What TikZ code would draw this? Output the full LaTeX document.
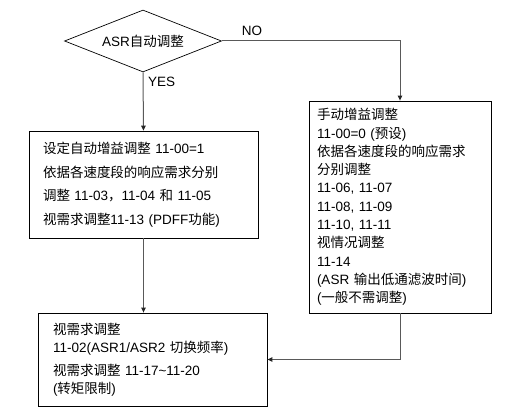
\documentclass[tikz,border=0pt]{standalone}
\usepackage{fontspec}
\setmainfont{Liberation Sans}
\newfontfamily\cjk{Noto Sans CJK SC}
\newcommand\zh[1]{{\cjk #1}}
\usetikzlibrary{shapes.geometric,arrows.meta}
\tikzset{
  txt/.style={font=\fontsize{13.5}{18}\selectfont},
  decision/.style={draw=black, line width=0.7pt, diamond, shape aspect=2.53,
    minimum width=157pt, minimum height=62pt, inner sep=0pt, txt},
  stepbox/.style={draw=black, line width=0.8pt, align=left, inner ysep=0pt, txt},
  conn/.style={draw=black!65, line width=1pt, -{Triangle[length=5pt,width=4.5pt,color=black!85]}},
  lbl/.style={txt, inner sep=0pt}
}
\begin{document}
\begin{tikzpicture}[x=1pt,y=-1pt]
\useasboundingbox (0,0) rectangle (523,417);
\node[decision] (d) at (143,41) {ASR\zh{自动调整}};
\node[stepbox, text width=201pt, inner xsep=14pt, minimum height=107pt,
      font=\fontsize{13.5}{23.5}\selectfont] (l) at (143.5,184.5)
  {\zh{设定自动增益调整} 11-00=1\\
   \zh{依据各速度段的响应需求分别}\\
   \zh{调整} 11-03\zh{，}11-04 \zh{和} 11-05\\
   \zh{视需求调整}11-13 (PDFF\zh{功能})};
\node[stepbox, text width=166pt, inner xsep=8pt, minimum height=212pt,
      font=\fontsize{13.5}{18.3}\selectfont] (r) at (400,207)
  {\zh{手动增益调整}\\
   11-00=0 (\zh{预设})\\
   \zh{依据各速度段的响应需求}\\
   \zh{分别调整}\\
   11-06, 11-07\\
   11-08, 11-09\\
   11-10, 11-11\\
   \zh{视情况调整}\\
   11-14\\
   (ASR \zh{输出低通滤波时间})\\
   (\zh{一般不需调整})};
\node[stepbox, text width=199pt, inner xsep=15pt, minimum height=93pt,
      font=\fontsize{13.5}{18}\selectfont] (b) at (152.5,359.5)
  {\zh{视需求调整}\\
   11-02(ASR1/ASR2 \zh{切换频率})\\[5pt]
   \zh{视需求调整} 11-17\textasciitilde 11-20\\
   (\zh{转矩限制})};
\draw[conn] (d.south) -- (l.north);
\draw[conn] (d.east) -| (r.north);
\draw[conn] (l.south) -- (l.south |- b.north);
\draw[conn] (r.south) |- (b.east);
\node[lbl, anchor=west] (yes) at (148,82) {YES};
\node[lbl] (no) at (252,31) {NO};
\end{tikzpicture}
\end{document}
